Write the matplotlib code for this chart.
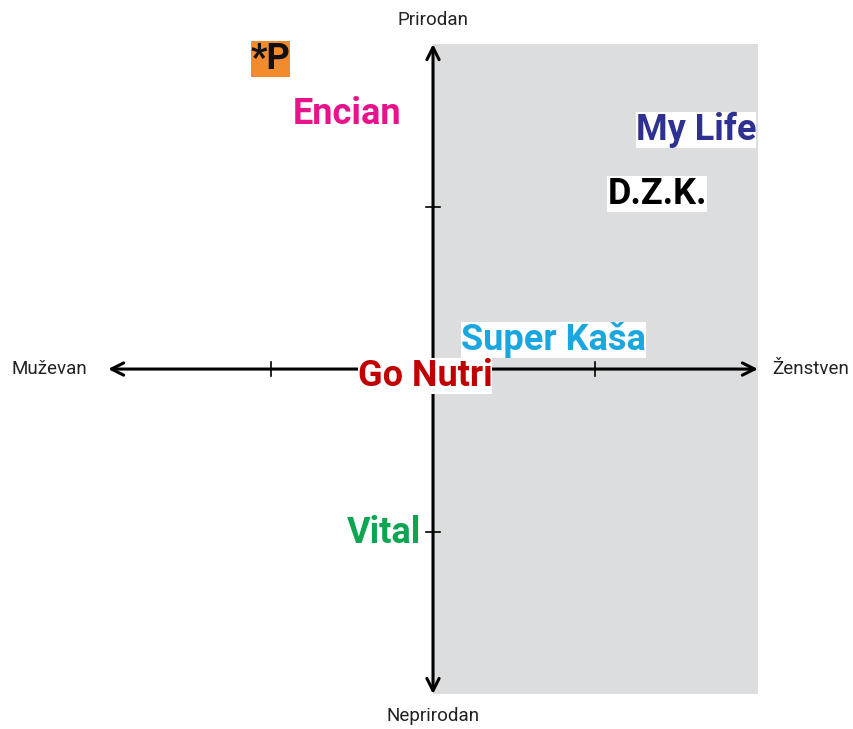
import matplotlib
matplotlib.use("Agg")
import matplotlib.pyplot as plt
from matplotlib.patches import Rectangle

brands = ["*P", "Encian", "My Life", "D.Z.K.", "Super Kaša", "Go Nutri", "Vital"]
x_vals = [-1.00, -0.53, 1.62, 1.38, 0.74, -0.05, -0.30]
y_vals = [1.91, 1.57, 1.47, 1.08, 0.18, -0.04, -1.01]
colors = ["#111111", "#e6138c", "#2e3192", "#000000", "#1aa7e0", "#c00000", "#0ea552"]
bgcolors = ["#f28a2e", "white", "white", "white", "white", "white", "white"]

axis_labels = {"left": "Muževan", "right": "Ženstven", "top": "Prirodan", "bottom": "Neprirodan"}
ticks = [-1, 1]

fig = plt.figure(figsize=(8.54, 7.29), dpi=100)
ax = fig.add_axes([0, 0, 1, 1])
ax.set_xlim(-2.665, 2.591)
ax.set_ylim(-2.215, 2.271)
ax.axis("off")

ax.add_patch(Rectangle((0, -2), 2, 4, facecolor="#dcdddf", edgecolor="none", zorder=0))

arrow_kw = dict(arrowstyle="->", lw=2.2, color="black", mutation_scale=22, shrinkA=0, shrinkB=0)
for end in [(-2, 0), (2, 0), (0, 2), (0, -2)]:
    ax.annotate("", xy=end, xytext=(0, 0), arrowprops=arrow_kw, zorder=2)

for t in ticks:
    ax.plot([t, t], [-0.045, 0.045], color="black", lw=1.2, zorder=2)
    ax.plot([-0.045, 0.045], [t, t], color="black", lw=1.2, zorder=2)

lab_kw = dict(fontsize=13.5, color="#222222", family="Roboto")
ax.text(-2.13, 0, axis_labels["left"], ha="right", va="center", **lab_kw)
ax.text(2.09, 0, axis_labels["right"], ha="left", va="center", **lab_kw)
ax.text(0, 2.09, axis_labels["top"], ha="center", va="bottom", **lab_kw)
ax.text(0, -2.08, axis_labels["bottom"], ha="center", va="top", **lab_kw)

for b, x, y, c, bg in zip(brands, x_vals, y_vals, colors, bgcolors):
    ax.text(x, y, b, ha="center", va="center", fontsize=26, fontweight="bold",
            family="Roboto", color=c, zorder=3,
            bbox=dict(facecolor=bg, edgecolor="none", boxstyle="square,pad=0.0"))

fig.savefig("out.png", dpi=100)
